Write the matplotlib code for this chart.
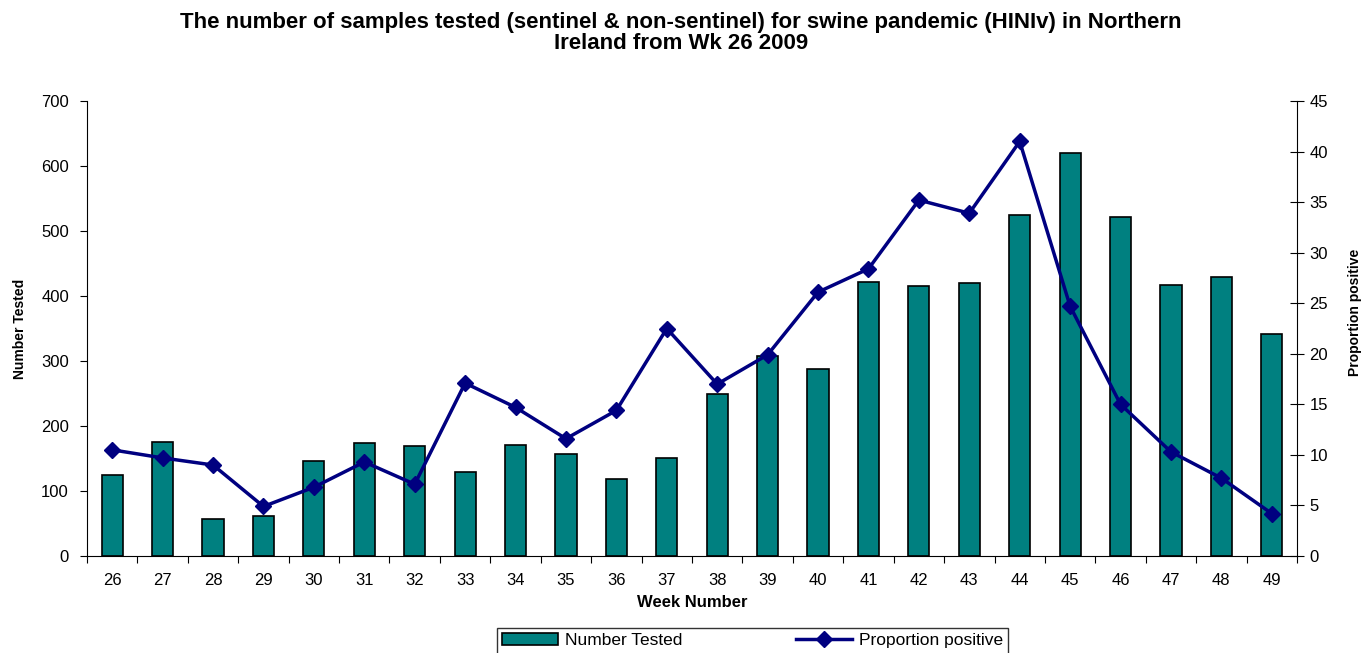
import matplotlib
matplotlib.use("Agg")
import matplotlib.pyplot as plt
from matplotlib.ticker import FixedLocator, NullFormatter

plt.rcParams["font.family"] = ["Liberation Sans", "DejaVu Sans"]

weeks = [str(w) for w in range(26, 50)]
number_tested = [125, 176, 57, 62, 146, 174, 169, 129, 171, 157, 118, 151,
                 249, 307, 288, 421, 415, 420, 525, 620, 521, 417, 429, 342]
proportion_positive = [10.5, 9.7, 9.0, 4.9, 6.8, 9.3, 7.1, 17.1, 14.7, 11.6,
                       14.4, 22.5, 17.0, 19.9, 26.1, 28.4, 35.2, 33.9, 41.0,
                       24.7, 15.0, 10.3, 7.7, 4.2]

W, H = 1362, 653
fig = plt.figure(figsize=(W / 100, H / 100), dpi=100)
ax = fig.add_axes([87 / W, 1 - 556 / H, (1297 - 87) / W, (556 - 101) / H])

x = list(range(len(weeks)))
bars = ax.bar(x, number_tested, width=0.42, color="#008080",
              edgecolor="black", linewidth=1.2, label="Number Tested", zorder=2)
ax.set_xlim(-0.5, len(weeks) - 0.5)
ax.set_ylim(0, 700)
ax.set_yticks(range(0, 701, 100))
ax.set_xticks(x)
ax.set_xticklabels(weeks)
ax.xaxis.set_minor_locator(FixedLocator([i - 0.5 for i in range(len(weeks) + 1)]))
ax.xaxis.set_minor_formatter(NullFormatter())
ax.tick_params(axis="x", which="major", length=0, labelsize=12, pad=12)
ax.tick_params(axis="x", which="minor", length=5, width=0.8, direction="out")
ax.tick_params(axis="y", length=5, width=0.8, direction="out", labelsize=12, pad=8)
ax.spines["top"].set_visible(False)
ax.spines["right"].set_visible(False)
for s in ("left", "bottom"):
    ax.spines[s].set_linewidth(0.8)
ax.set_ylabel("Number Tested", fontsize=10, fontweight="bold", labelpad=10)
ax.set_xlabel("Week Number", fontsize=12, fontweight="bold", labelpad=5)

ax2 = ax.twinx()
line, = ax2.plot(x, proportion_positive, color="#000080", linewidth=2.5,
                 marker="D", markersize=8, label="Proportion positive", zorder=3)
ax2.set_ylim(0, 45)
ax2.set_yticks(range(0, 46, 5))
ax2.tick_params(axis="y", length=10, width=0.8, direction="inout", labelsize=12, pad=4)
ax2.spines["top"].set_visible(False)
ax2.spines["left"].set_visible(False)
ax2.spines["bottom"].set_visible(False)
ax2.spines["right"].set_linewidth(0.8)
ax2.set_ylabel("Proportion positive", fontsize=10, fontweight="bold", labelpad=18)
ax2.yaxis.set_label_coords(1.042, 0.535)

fig.text(0.5, 1 - 33 / H, "The number of samples tested (sentinel & non-sentinel) for swine pandemic (HINIv) in Northern\nIreland from Wk 26 2009",
         ha="center", va="center", fontsize=16, fontweight="bold", linespacing=1.05)

leg = fig.legend([bars, line], ["Number Tested", "Proportion positive"],
                 loc="upper left", bbox_to_anchor=(497 / W, 0, 511 / W, 1 - 628 / H),
                 mode="expand", ncol=2, frameon=True, fancybox=False,
                 edgecolor="black", fontsize=12.5, handlelength=3.2,
                 handletextpad=0.4, borderpad=0.3, borderaxespad=0)
leg.get_frame().set_linewidth(1)

fig.savefig("out.png", dpi=100)
